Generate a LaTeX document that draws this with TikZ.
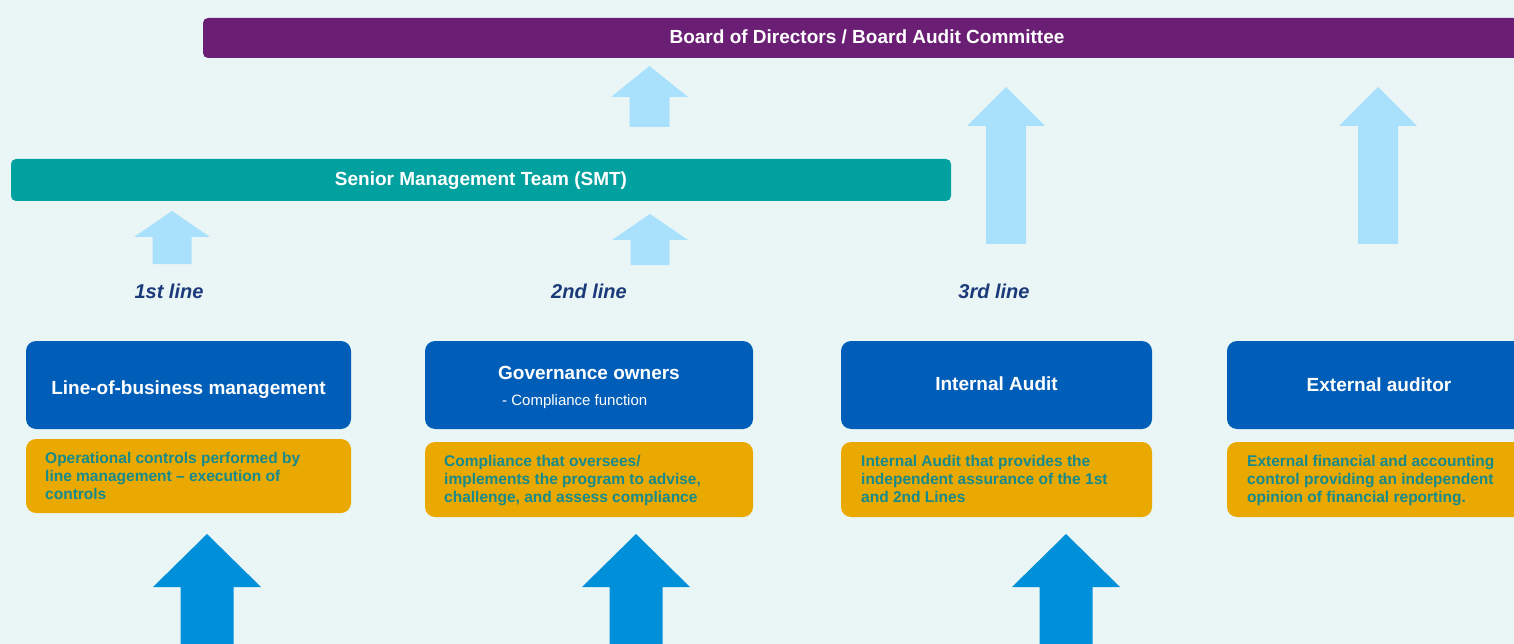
\documentclass[tikz,border=0pt]{standalone}
\usepackage{fontspec}
\setmainfont{Liberation Sans}
\definecolor{bgc}{HTML}{EAF6F6}
\definecolor{purplebar}{HTML}{6B1F74}
\definecolor{tealbar}{HTML}{00A19E}
\definecolor{lightarrow}{HTML}{A9E1FC}
\definecolor{navylabel}{HTML}{1B3A7A}
\definecolor{bluebox}{HTML}{005EB8}
\definecolor{goldbox}{HTML}{EAA900}
\definecolor{goldtext}{HTML}{168A8C}
\definecolor{darkarrow}{HTML}{0090DA}
\newcommand\myblockarrow[7]{%
  \fill[#1] ({#2-#7},#5) -- ({#2-#7},#4) -- ({#2-#6},#4) -- (#2,#3) -- ({#2+#6},#4) -- ({#2+#7},#4) -- ({#2+#7},#5) -- cycle;}
\tikzset{
  bar/.style={rounded corners=5pt, inner sep=0pt},
  bluebx/.style={fill=bluebox, rounded corners=10pt, inner sep=0pt, minimum height=88pt},
  goldbx/.style={fill=goldbox, rounded corners=10pt, inner sep=0pt},
  bartext/.style={text=white, font=\fontsize{19}{22}\selectfont\bfseries, anchor=base, inner sep=0pt},
  titletext/.style={text=white, font=\fontsize{19}{22}\selectfont\bfseries, anchor=base, inner sep=0pt},
  subtext/.style={text=white, font=\fontsize{15}{18}\selectfont, anchor=base west, inner sep=0pt},
  linelabel/.style={text=navylabel, font=\fontsize{20}{24}\selectfont\bfseries\itshape, anchor=base, inner sep=0pt},
  goldtxt/.style={text=goldtext, font=\fontsize{15.5}{18}\selectfont\bfseries, anchor=north west, align=left, inner sep=0pt},
}
\begin{document}
\begin{tikzpicture}[x=1pt,y=-1pt]
\useasboundingbox (0,0) rectangle (1514,644);
\clip (0,0) rectangle (1514,644);
\fill[bgc] (0,0) rectangle (1514,644);

% Board bar
\node[bar, fill=purplebar, minimum width=1328pt, minimum height=40pt] (board) at (867,38) {};
\node[bartext] (boardt) at (867,44) {Board of Directors / Board Audit Committee};

% SMT bar
\node[bar, fill=tealbar, minimum width=940pt, minimum height=42pt] (smt) at (481,180) {};
\node[bartext] (smtt) at (481,186) {Senior Management Team (SMT)};

% light arrows
\myblockarrow{lightarrow}{172}{211}{237}{264}{38}{19.5}
\myblockarrow{lightarrow}{650}{214}{240}{265}{38}{19.5}
\myblockarrow{lightarrow}{649.5}{66}{97}{127}{38.5}{20}
\myblockarrow{lightarrow}{1006}{87}{126}{244}{39}{20}
\myblockarrow{lightarrow}{1378}{87}{126}{244}{39}{20}

% line labels
\node[linelabel] (l1) at (169,298) {1st line};
\node[linelabel] (l2) at (589,298) {2nd line};
\node[linelabel] (l3) at (994,298) {3rd line};

% blue boxes
\node[bluebx, minimum width=325pt] (b1) at (188.5,385) {};
\node[bluebx, minimum width=328pt] (b2) at (589,385) {};
\node[bluebx, minimum width=311pt] (b3) at (996.5,385) {};
\node[bluebx, minimum width=304pt] (b4) at (1379,385) {};
\node[titletext] (b1t) at (188.5,394) {Line-of-business management};
\node[titletext] (b2t) at (589,379) {Governance owners};
\node[subtext] (b2s) at (502,405) {- Compliance function};
\node[titletext] (b3t) at (996.5,390) {Internal Audit};
\node[titletext] (b4t) at (1379,391) {External auditor};

% gold boxes
\node[goldbx, minimum width=325pt, minimum height=74pt] (g1) at (188.5,476) {};
\node[goldbx, minimum width=328pt, minimum height=75pt] (g2) at (589,479.5) {};
\node[goldbx, minimum width=311pt, minimum height=75pt] (g3) at (996.5,479.5) {};
\node[goldbx, minimum width=304pt, minimum height=75pt] (g4) at (1379,479.5) {};
\node[goldtxt] (g1t) at (45,452) {Operational controls performed by\\line management -- execution of\\controls};
\node[goldtxt] (g2t) at (444,455) {Compliance that oversees/\\implements the program to advise,\\challenge, and assess compliance};
\node[goldtxt] (g3t) at (861,455) {Internal Audit that provides the\\independent assurance of the 1st\\and 2nd Lines};
\node[goldtxt] (g4t) at (1247,455) {External financial and accounting\\control providing an independent\\opinion of financial reporting.};

% dark arrows
\myblockarrow{darkarrow}{207}{534}{587}{650}{54}{26.5}
\myblockarrow{darkarrow}{636}{534}{587}{650}{54}{26.5}
\myblockarrow{darkarrow}{1066}{534}{587}{650}{54}{26.5}
\end{tikzpicture}
\end{document}
